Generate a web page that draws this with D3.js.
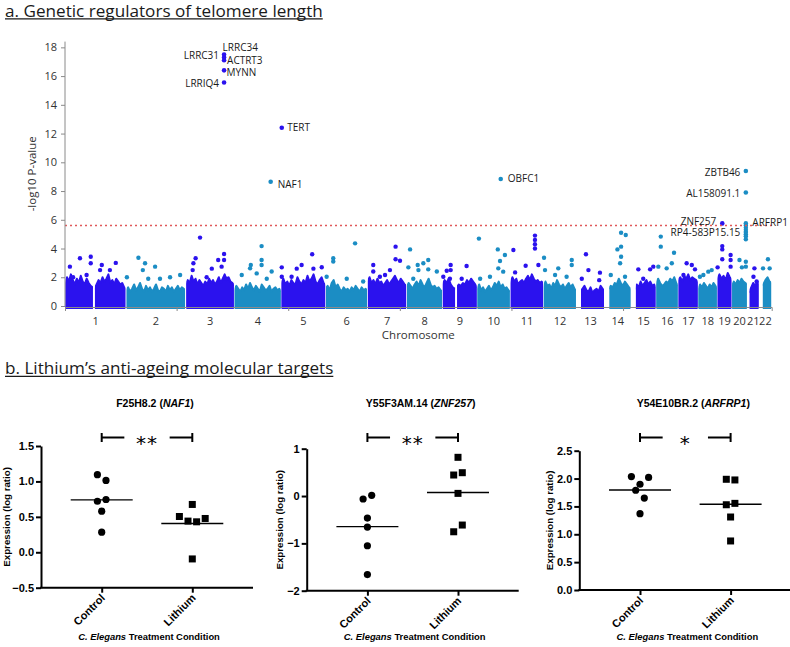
<!DOCTYPE html>
<html><head><meta charset="utf-8">
<script src="https://cdn.jsdelivr.net/npm/d3@7"></script>
<style>body{margin:0;background:#fff}svg{display:block}</style>
</head><body>
<svg id="chart" width="790" height="647"></svg>
<script>
// ================= DATA =================
// --- Panel a: Manhattan plot ---
const chromosomes = ["1","2","3","4","5","6","7","8","9","10","11","12","13","14","15","16","17","18","19","20","21","22"];
const chromLengthsMb = [249.3,243.2,198.0,191.2,180.9,171.1,159.1,146.4,141.2,135.5,135.0,133.9,115.2,107.3,102.5,90.4,81.2,78.1,59.1,63.0,48.1,51.3];
const manhattanYTicks = [0,2,4,6,8,10,12,14,16,18];
const genomeTickMb = [0,455,910,1365,1820,2275];
const significanceLine = 5.6;
// stretches of each chromosome that carry genes (Mb)
const geneSegmentsMb = [
  [[2,114],[122,246]],[[2,240]],[[2,196]],[[1,189]],[[1,179]],[[1,169]],[[1,157]],[[1,144]],
  [[1,51],[59,139]],[[1,133]],[[1,133]],[[1,132]],[[19,113]],[[19,105]],[[20,100]],[[1,88]],
  [[1,79]],[[1,76]],[[1,57]],[[1,61]],[[9,46]],[[15,49]]
];
// upper edge of the dense cloud of genes along each chromosome (-log10 P, evenly spaced samples)
const cloudTops = [
  [1.6,2.0,1.7,2.2,1.8,1.5,1.9,1.6,2.1,1.7,1.5,1.9,1.6,1.4,1.3,1.2,1.5,1.8,1.6,2.0,1.7,1.9,2.2,1.6,1.8,1.5,1.9,1.7,1.5,1.6,1.3,1.2],
  [1.1,1.3,1.0,1.2,1.5,1.1,1.3,1.6,1.2,1.0,1.4,1.1,1.3,1.0,1.2,1.5,1.1,1.0,1.3,1.2,1.0,1.4,1.1,1.3,1.0,1.2,1.4,1.1,1.3,1.2,1.0],
  [1.5,1.8,1.6,2.1,1.7,1.9,1.5,1.8,1.6,1.4,1.7,1.5,1.9,1.6,1.8,1.5,1.7,2.0,1.6,1.9,2.2,1.8,2.0,1.7,1.6,1.4],
  [1.1,1.4,1.2,1.0,1.3,1.1,1.5,1.2,1.6,1.3,1.1,1.4,1.2,1.0,1.5,1.3,1.1,1.2,1.4,1.0,1.2,1.3,1.1,1.2,1.0],
  [1.6,1.9,1.5,1.7,1.4,1.8,1.6,1.5,2.0,1.7,1.5,1.8,1.6,2.1,1.7,1.9,2.2,1.7,1.5,1.8,2.0,1.6,1.4],
  [1.2,1.4,1.1,1.6,1.8,1.3,1.5,1.2,1.0,1.3,1.1,1.2,1.0,1.3,1.1,1.4,1.2,1.0,1.3,1.1,1.2,1.0],
  [1.7,2.0,1.6,1.8,1.5,1.9,1.6,1.7,1.4,1.6,1.8,1.5,1.7,1.9,2.1,1.8,1.6,1.9,1.7,1.5,1.4],
  [1.3,1.6,1.4,1.2,1.5,1.7,1.4,1.8,1.5,1.3,1.6,1.9,1.5,1.3,1.4,1.2,1.3,1.1,1.0],
  [1.5,1.8,1.6,1.9,1.5,1.3,1.2,1.3,1.5,1.4,1.6,1.5,1.8,1.6,1.9,1.7,1.5,1.3],
  [1.2,1.5,1.1,1.3,1.0,1.2,1.4,1.1,1.3,1.6,1.4,1.7,1.3,1.5,1.2,1.3,1.1,1.0],
  [1.6,2.0,1.7,1.9,1.5,1.7,1.8,1.6,1.9,2.1,1.8,2.2,1.9,1.7,1.8,1.6,1.7,1.5],
  [1.3,1.7,1.4,1.5,1.2,1.6,1.4,1.8,1.5,1.3,1.5,1.2,1.4,1.6,1.3,1.5,1.2,1.1],
  [1.0,1.0,1.0,1.2,1.4,1.1,1.0,1.3,0.9,1.1,1.2,1.0,1.4,1.2,1.0],
  [1.2,1.2,1.2,1.4,1.3,1.6,1.5,1.9,1.6,1.4,1.7,1.5,1.3,1.2],
  [1.2,1.2,1.2,1.5,1.3,1.7,1.4,1.6,1.8,1.5,1.7,1.4,1.5,1.3],
  [1.5,1.9,1.6,1.4,1.5,1.7,1.6,1.9,1.7,2.0,1.6,1.4],
  [1.8,2.0,1.7,2.1,1.9,2.2,1.8,2.0,1.9,1.8,1.6],
  [1.2,1.5,1.3,1.6,1.4,1.2,1.5,1.3,1.6,1.4,1.2],
  [1.9,2.2,1.9,2.1,1.8,2.3,2.0,1.8],
  [1.4,1.7,1.5,1.8,1.6,1.9,1.7,1.6,1.5],
  [1.0,1.0,1.3,1.6,1.4,1.7,1.5],
  [1.5,1.5,1.5,1.8,2.0,1.7,1.6]
];
// individual genes standing above the cloud: [chromosome index, position Mb, -log10 P]
const outlierGenes = [
  [0,20,2.74],[0,61,3.32],[0,105,3.43],[0,105,2.97],[0,150,2.85],[0,207,3.0],[0,183,2.5],[0,33,2.0],[0,88,2.16],[0,143,2.5],
  [1,50,3.36],[1,77,2.97],[1,68,2.5],[1,118,2.74],[1,3,2.0],[1,90,1.9],[1,138,1.9],[1,179,2.0],[1,220,2.16],
  [2,58,4.76],[2,40,3.32],[2,31,2.97],[2,28,2.5],[2,132,3.2],[2,156,3.62],[2,156,3.2],[2,146,2.74],[2,106,2.6],[2,85,2.0],[2,167,1.9],
  [3,111,4.17],[3,111,3.2],[3,111,2.85],[3,67,2.85],[3,64,2.62],[3,30,2.16],[3,91,2.27],[3,152,2.4],[3,132,1.9],
  [4,2,2.69],[4,2,2.04],[4,42,2.04],[4,83,2.85],[4,126,3.6],[4,131,2.6],[4,165,2.7],[4,63,2.6],
  [5,120,4.36],[5,31,3.32],[5,31,3.1],[5,4,2.04],[5,86,1.9],[5,153,1.7],
  [6,23,2.85],[6,23,2.4],[6,91,2.5],[6,114,4.13],[6,114,3.25],[6,132,3.15],[6,50,2.04],[6,71,2.16],
  [7,14,3.94],[7,7,2.69],[7,45,2.85],[7,68,2.97],[7,88,3.2],[7,88,2.55],[7,48,2.5],[7,123,2.4],[7,27,1.9],
  [8,33,2.85],[8,33,2.5],[8,17,2.45],[8,3,2.04],[8,30,1.9],[8,98,2.78],[8,78,1.9],
  [9,7,4.69],[9,84,3.94],[9,113,3.55],[9,93,3.13],[9,86,2.62],[9,106,2.39],[9,12,1.9],[9,52,2.04],
  [10,12,3.9],[10,100,4.9],[10,100,4.6],[10,100,4.3],[10,100,4.0],[10,62,2.8],[10,19,2.34],[10,114,2.85],
  [11,2,3.36],[11,6,2.5],[11,60,2.62],[11,47,2.16],[11,115,3.2],[11,115,2.85],[11,94,2.04],
  [12,39,3.6],[12,49,2.5],[12,22,1.9],[12,96,2.32],[12,93,1.8],
  [13,67,5.1],[13,67,4.13],[13,67,3.43],[13,86,4.94],[13,52,3.94],[13,63,2.97],[13,25,2.16],[13,83,2.04],
  [14,30,2.55],[14,78,2.55],[14,50,1.9],[14,91,2.74],
  [15,19,4.83],[15,19,4.13],[15,9,2.74],[15,43,2.62],[15,73,3.71],[15,64,2.97],
  [16,34,2.97],[16,55,2.85],[16,68,2.55],[16,21,2.16],
  [17,21,2.16],[17,41,2.39],[17,55,2.5],[17,7,2.04],
  [18,20,4.17],[18,20,3.94],[18,20,3.25],[18,1,2.69],[18,54,3.55],[18,54,3.2],[18,54,2.74],
  [19,31,3.2],[19,41,2.69],[19,57,3.08],[19,57,2.74],[19,57,5.6],[19,57,5.45],[19,57,5.3],[19,57,5.0],[19,57,4.85],[19,57,4.65],
  [20,29,2.62],[20,25,2.04],[20,38,1.7],
  [21,36,3.25],[21,16,2.62],[21,43,2.62]
];
// named genome-wide hits
const hitNames = ["LRRC34","LRRC31","ACTRT3","MYNN","LRRIQ4","TERT","NAF1","OBFC1","ZBTB46","AL158091.1","ZNF257","RP4-583P15.15","ARFRP1"];
const hitChrom = [2,2,2,2,2,4,3,9,19,19,18,19,19];
const hitPosMb = [156,156,156,156,156,2,148,96,57,57,20,57,57];
const hitLogP = [17.5,17.3,17.1,16.4,15.55,12.4,8.65,8.84,9.4,7.9,5.75,5.15,5.75];

// --- Panel b: qPCR dot plots ---
const conditions = ["Control","Lithium"];
const targetIds = ["F25H8.2","Y55F3AM.14","Y54E10BR.2"];
const humanGenes = ["NAF1","ZNF257","ARFRP1"];
const naf1Control = [1.095,1.014,0.72,0.745,0.58,0.283];
const naf1Lithium = [0.675,0.505,0.44,0.43,0.477,-0.094];
const znf257Control = [-0.063,0.014,-0.465,-0.655,-1.05,-1.66];
const znf257Lithium = [0.818,0.444,0.493,0.056,-0.755,-0.613];
const arfrp1Control = [2.036,1.898,2.02,1.79,1.65,1.37];
const arfrp1Lithium = [1.987,1.975,1.53,1.555,1.31,0.88];
const significanceStars = ["**","**","*"];
const panelYDomains = [[-0.5,1.5],[-2,1],[0,2.5]];
const panelYTicks = [[-0.5,0,0.5,1,1.5],[-2,-1,0,1],[0,0.5,1,1.5,2,2.5]];
const panelTickFormats = [".1f","d",".1f"];

// ================= LAYOUT / STYLE =================
const BLUE = "#2b12ee", TEAL = "#1b8dc4";
const svg = d3.select("#chart");
const titleFont = "'Open Sans', sans-serif";
const plotFont = "'Open Sans', sans-serif";
const prismFont = "'Liberation Sans', Arial, sans-serif";

function sectionTitle(text, x, y, fs) {
  const t = svg.append("text").attr("x", x).attr("y", y).attr("font-family", titleFont)
    .attr("font-size", fs).attr("fill", "#1a1a1a").text(text);
  const w = t.node().getComputedTextLength();
  svg.append("line").attr("x1", x).attr("x2", x + w).attr("y1", y + 2.4).attr("y2", y + 2.4)
    .attr("stroke", "#1a1a1a").attr("stroke-width", 1.3);
  return w;
}
// fit title font so that it spans the same width as the reference
const probe = svg.append("text").attr("font-family", titleFont).attr("font-size", 20).text("a. Genetic regulators of telomere length");
const titleFs = 20 * 318 / probe.node().getComputedTextLength();
probe.remove();
sectionTitle("a. Genetic regulators of telomere length", 5, 16.5, titleFs);
sectionTitle("b. Lithium\u2019s anti-ageing molecular targets", 5, 374, titleFs);

// ---------- Manhattan ----------
const chromOffsets = chromLengthsMb.map((d, i) => d3.sum(chromLengthsMb.slice(0, i)));
const genomeMb = d3.sum(chromLengthsMb);
const xM = d3.scaleLinear().domain([0, genomeMb]).range([65, 771.7]);
const yM = d3.scaleLinear().domain([0, 18.4]).range([306, 41.6]);
const colorOf = i => (i % 2 === 0 ? BLUE : TEAL);

const gM = svg.append("g");
const defs = svg.append("defs");

// dense gene cloud
chromosomes.forEach((c, i) => {
  const cp = defs.append("clipPath").attr("id", "clip" + i);
  geneSegmentsMb[i].forEach(s => {
    cp.append("rect").attr("x", xM(chromOffsets[i] + s[0])).attr("width", xM(chromOffsets[i] + s[1]) - xM(chromOffsets[i] + s[0]))
      .attr("y", 0).attr("height", 310);
  });
  const tops = cloudTops[i];
  const pts = tops.map((v, j) => ({ pos: chromOffsets[i] + chromLengthsMb[i] * j / (tops.length - 1), v }));
  const area = d3.area().x(d => xM(d.pos)).y0(yM(0) + 2).y1(d => yM(d.v));
  gM.append("path").attr("d", area(pts)).attr("fill", colorOf(i)).attr("stroke", colorOf(i))
    .attr("stroke-width", 2).attr("stroke-linejoin", "round").attr("clip-path", "url(#clip" + i + ")");
});

// outlier genes
gM.selectAll("circle.out").data(outlierGenes).join("circle").attr("class", "out")
  .attr("cx", d => xM(chromOffsets[d[0]] + d[1])).attr("cy", d => yM(d[2])).attr("r", 2.2)
  .attr("fill", d => colorOf(d[0]));

// significance line
svg.append("line").attr("x1", xM(0)).attr("x2", xM(genomeMb)).attr("y1", yM(significanceLine)).attr("y2", yM(significanceLine))
  .attr("stroke", "#e0585a").attr("stroke-width", 1.6).attr("stroke-dasharray", "2,3");

// hits
const hits = hitNames.map((n, i) => ({ name: n, chr: hitChrom[i], pos: hitPosMb[i], v: hitLogP[i] }));
gM.selectAll("circle.hit").data(hits).join("circle").attr("class", "hit")
  .attr("cx", d => xM(chromOffsets[d.chr] + d.pos)).attr("cy", d => yM(d.v)).attr("r", 2.3)
  .attr("fill", d => colorOf(d.chr));
// label placement: [anchor, dx, dy]
const hitLabelPlacement = [
  ["start",-1.5,-7],["end",-5,-1.5],["start",3,0.5],["start",2.5,2],["end",-5,0.5],["start",5.5,-0.5],
  ["start",7,2.5],["start",7,0],["end",-5.5,2],["end",-5.5,1.5],["end",-6,-2],["end",-5.5,0.5],["start",6.5,-0.5]
];
svg.selectAll("text.hit").data(hits).join("text").attr("class", "hit")
  .attr("x", (d, i) => xM(chromOffsets[d.chr] + d.pos) + hitLabelPlacement[i][1])
  .attr("y", (d, i) => yM(d.v) + hitLabelPlacement[i][2])
  .attr("dy", "0.35em").attr("text-anchor", (d, i) => hitLabelPlacement[i][0])
  .attr("font-family", plotFont).attr("font-size", 10).attr("fill", "#1a1a1a").text(d => d.name);

// axes
const yAxM = svg.append("g").attr("transform", "translate(65,0)")
  .call(d3.axisLeft(yM).tickValues(manhattanYTicks).tickSize(4).tickPadding(4).tickSizeOuter(0));
const xAxM = svg.append("g").attr("transform", "translate(0,307)")
  .call(d3.axisBottom(xM).tickValues(genomeTickMb).tickSize(4).tickSizeOuter(4).tickFormat(""));
[yAxM, xAxM].forEach(g => {
  g.selectAll("path,line").attr("stroke", "#8a8a8a");
  g.selectAll("text").attr("font-family", plotFont).attr("font-size", 11).attr("fill", "#333");
});
yAxM.select("path.domain").attr("d", `M0,${yM(0)}V${yM(18.4)}`);
svg.selectAll("text.chr").data(chromosomes).join("text").attr("class", "chr")
  .attr("x", (c, i) => xM(chromOffsets[i] + chromLengthsMb[i] / 2)).attr("y", 325)
  .attr("text-anchor", "middle").attr("font-family", plotFont).attr("font-size", 11).attr("fill", "#333").text(c => c);
svg.append("text").attr("x", xM(genomeMb / 2)).attr("y", 338.5).attr("text-anchor", "middle")
  .attr("font-family", plotFont).attr("font-size", 11.5).attr("fill", "#333").text("Chromosome");
svg.append("text").attr("transform", `translate(36,${(yM(0) + yM(18.4)) / 2}) rotate(-90)`).attr("text-anchor", "middle")
  .attr("font-family", plotFont).attr("font-size", 11.5).attr("fill", "#333").text("-log10 P-value");

// ---------- Panel b dot plots ----------
const panelSeries = [[naf1Control, naf1Lithium],[znf257Control, znf257Lithium],[arfrp1Control, arfrp1Lithium]];
const panelX0 = [41, 306.7, 579.3];
const panelAxisLen = 212;
const panelYRange = [[587.7,446],[590.7,448.7],[590,450.7]];

panelSeries.forEach((series, p) => {
  const g = svg.append("g");
  const x = d3.scalePoint().domain(conditions).range([panelX0[p], panelX0[p] + panelAxisLen]).padding(0.67);
  const y = d3.scaleLinear().domain(panelYDomains[p]).range(panelYRange[p]);
  const yBottom = y(panelYDomains[p][0]);

  // y axis
  const ya = g.append("g").attr("transform", `translate(${panelX0[p]},0)`)
    .call(d3.axisLeft(y).tickValues(panelYTicks[p]).tickFormat(d3.format(panelTickFormats[p])).tickSize(5).tickPadding(2).tickSizeOuter(0));
  // x axis
  const xa = g.append("g").attr("transform", `translate(0,${yBottom})`)
    .call(d3.axisBottom(x).tickSize(5).tickSizeOuter(0).tickFormat(""));
  xa.select("path.domain").attr("d", `M${panelX0[p] - 1},0H${panelX0[p] + panelAxisLen}`);
  [ya, xa].forEach(a => {
    a.selectAll("path,line").attr("stroke", "#000").attr("stroke-width", 2);
    a.selectAll("text").attr("font-family", prismFont).attr("font-weight", "bold").attr("font-size", 11).attr("fill", "#000");
  });
  const tickW = d3.max(ya.selectAll("text").nodes(), n => n.getComputedTextLength());

  // rotated category labels
  g.selectAll("text.cat").data(conditions).join("text").attr("class", "cat")
    .attr("transform", d => `translate(${x(d) + 4},${yBottom + 11}) rotate(-45)`)
    .attr("text-anchor", "end").attr("font-family", prismFont).attr("font-weight", "bold").attr("font-size", 11).text(d => d);

  // axis titles
  const xt = g.append("text").attr("x", panelX0[p] + panelAxisLen / 2 + 2).attr("y", 640).attr("text-anchor", "middle")
    .attr("font-family", prismFont).attr("font-weight", "bold").attr("font-size", 9.4);
  xt.append("tspan").attr("font-style", "italic").text("C. Elegans");
  xt.append("tspan").text(" Treatment Condition");
  const ylx = Math.max(10, panelX0[p] - 5 - 2 - tickW - 4);
  g.append("text").attr("transform", `translate(${ylx},${(panelYRange[p][0] + panelYRange[p][1]) / 2}) rotate(-90)`)
    .attr("text-anchor", "middle").attr("font-family", prismFont).attr("font-weight", "bold").attr("font-size", 9.7)
    .text("Expression (log ratio)");

  // title
  const tt = g.append("text").attr("x", panelX0[p] + panelAxisLen / 2 + 8).attr("y", 407).attr("text-anchor", "middle")
    .attr("font-family", prismFont).attr("font-weight", "bold").attr("font-size", 10.5);
  tt.append("tspan").text(targetIds[p] + " (");
  tt.append("tspan").attr("font-style", "italic").text(humanGenes[p]);
  tt.append("tspan").text(")");

  // points, arranged in rows like a column scatter
  series.forEach((vals, c) => {
    const cx = x(conditions[c]);
    const order = d3.range(vals.length).sort((a, b) => vals[b] - vals[a]);
    const offs = new Array(vals.length).fill(0);
    let k = 0;
    while (k < order.length) {
      const row = [order[k]];
      let m = k + 1;
      while (m < order.length && y(vals[order[m]]) - y(vals[order[k]]) <= 8.5) { row.push(order[m]); m++; }
      row.sort((a, b) => a - b);
      row.forEach((idx, r) => { offs[idx] = (r - (row.length - 1) / 2) * 8.6; });
      k = m;
    }
    if (c === 0) {
      g.selectAll(null).data(vals).join("circle").attr("cx", (d, i) => cx + offs[i]).attr("cy", d => y(d)).attr("r", 3.6).attr("fill", "#000");
    } else {
      g.selectAll(null).data(vals).join("rect").attr("x", (d, i) => cx + offs[i] - 3.5).attr("y", d => y(d) - 3.5)
        .attr("width", 7).attr("height", 7).attr("fill", "#000");
    }
    const m = d3.mean(vals);
    g.append("line").attr("x1", cx - 31).attr("x2", cx + 31).attr("y1", y(m)).attr("y2", y(m)).attr("stroke", "#000").attr("stroke-width", 1.4);
  });

  // significance bracket
  const xa0 = x(conditions[0]), xb0 = x(conditions[1]), by = 437.5, seg = (xb0 - xa0) * 0.25;
  [[xa0, xa0 + seg], [xb0 - seg, xb0]].forEach(s => {
    g.append("line").attr("x1", s[0]).attr("x2", s[1]).attr("y1", by).attr("y2", by).attr("stroke", "#000").attr("stroke-width", 2);
  });
  [xa0, xb0].forEach(xx => g.append("line").attr("x1", xx).attr("x2", xx).attr("y1", by - 4.5).attr("y2", by + 4.5).attr("stroke", "#000").attr("stroke-width", 2));
  g.append("text").attr("x", (xa0 + xb0) / 2).attr("y", by + 12).attr("text-anchor", "middle")
    .attr("font-family", "'DejaVu Sans', sans-serif").attr("font-size", 20).attr("letter-spacing", 1).text(significanceStars[p]);
});
</script>
</body></html>
